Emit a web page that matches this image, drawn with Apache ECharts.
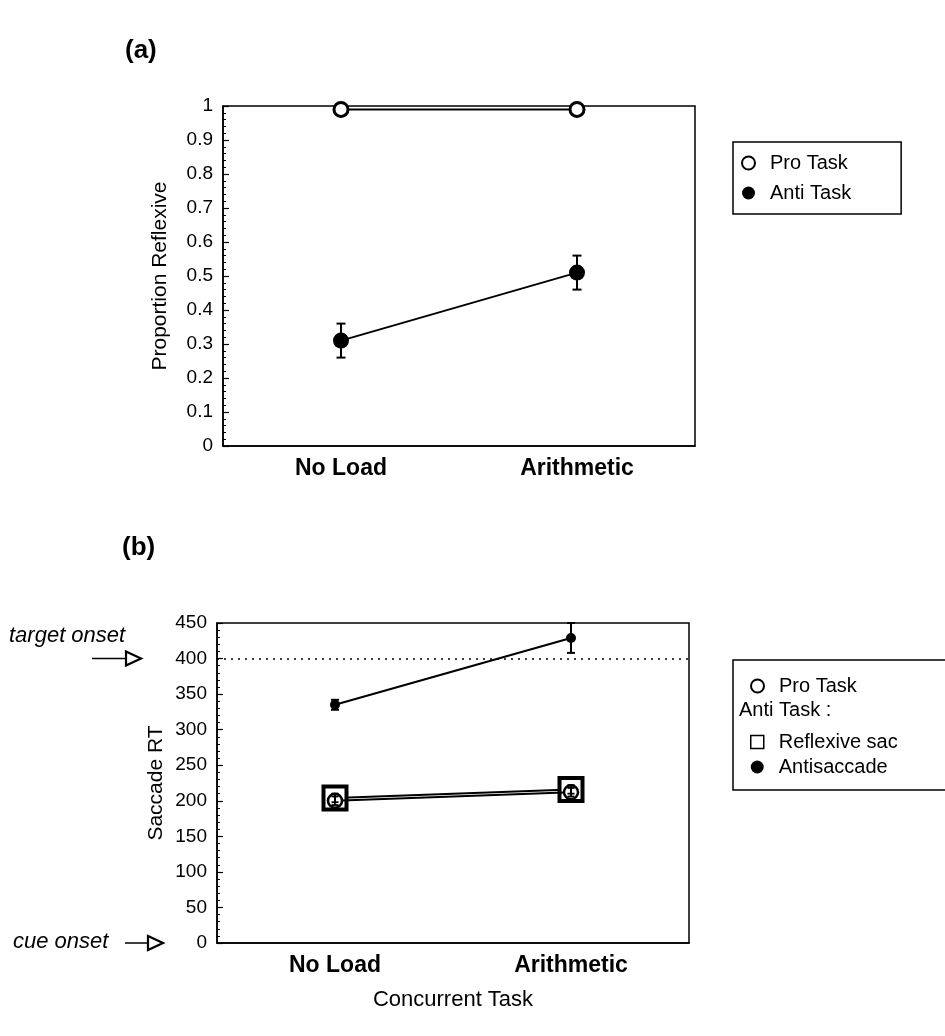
<!DOCTYPE html>
<html>
<head>
<meta charset="utf-8">
<script src="https://cdn.jsdelivr.net/npm/echarts@6/dist/echarts.min.js"></script>
<style>
  html, body { margin: 0; padding: 0; background: #fff; }
  #main { width: 945px; height: 1036px; }
</style>
</head>
<body>
<div id="main"></div>
<script>
'use strict'
// data
var categories = ['No Load', 'Arithmetic']

// (a) proportion reflexive
var propPro = [0.99, 0.99]
var propAnti = [0.31, 0.51]
var propAntiErr = [0.05, 0.05]

// (b) saccade RT
var rtPro = [200, 212]
var rtProErr = [6, 6]
var rtReflexive = [204, 216]
var rtReflexiveErr = [6, 6]
var rtAnti = [335, 429]
var rtAntiErr = [7, 21]
var targetOnset = 400

var FONT = 'Liberation Sans, Arial, sans-serif'

function errorBars (name, axisIdx, values, errs, capW, lineW) {
  return {
    name: name,
    type: 'custom',
    xAxisIndex: axisIdx,
    yAxisIndex: axisIdx,
    z: 5,
    silent: true,
    encode: { x: 0, y: [1, 2] },
    data: values.map(function (v, i) { return [i, v - errs[i], v + errs[i]] }),
    renderItem: function (params, api) {
      var lo = api.coord([api.value(0), api.value(1)])
      var hi = api.coord([api.value(0), api.value(2)])
      var w = capW / 2
      var st = { stroke: '#000', lineWidth: lineW }
      return {
        type: 'group',
        children: [
          { type: 'line', shape: { x1: lo[0], y1: lo[1], x2: hi[0], y2: hi[1] }, style: st },
          { type: 'line', shape: { x1: lo[0] - w, y1: lo[1], x2: lo[0] + w, y2: lo[1] }, style: st },
          { type: 'line', shape: { x1: hi[0] - w, y1: hi[1], x2: hi[0] + w, y2: hi[1] }, style: st }
        ]
      }
    }
  }
}

function yAxisBase (gi, name, max, interval) {
  return {
    type: 'value',
    gridIndex: gi,
    min: 0,
    max: max,
    interval: interval,
    name: name,
    nameLocation: 'middle',
    nameGap: gi === 0 ? 52 : 50,
    nameTextStyle: { fontFamily: FONT, fontSize: 21, color: '#000' },
    axisLine: { show: true, lineStyle: { color: '#000', width: 1.5 } },
    axisTick: { show: true, inside: true, length: 6, lineStyle: { color: '#000', width: 1.2 } },
    minorTick: { show: true, splitNumber: 5, length: 3, lineStyle: { color: '#000', width: 1 } },
    splitLine: { show: false },
    axisLabel: { fontFamily: FONT, fontSize: 19, color: '#000', margin: 10 }
  }
}

function xAxisBase (gi) {
  return {
    type: 'category',
    gridIndex: gi,
    data: categories,
    boundaryGap: true,
    axisLine: { show: true, lineStyle: { color: '#000', width: 1.5 } },
    axisTick: { show: false },
    axisLabel: { fontFamily: FONT, fontSize: 23, fontWeight: 'bold', color: '#000', margin: 11 }
  }
}

var chart = echarts.init(document.getElementById('main'))

var xB = xAxisBase(1)
xB.name = 'Concurrent Task'
xB.nameLocation = 'middle'
xB.nameGap = 46
xB.nameTextStyle = { fontFamily: FONT, fontSize: 22, color: '#000' }

var legendText = { fontFamily: FONT, fontSize: 20, color: '#000', padding: [0, 0, 0, 10] }

var option = {
  backgroundColor: '#fff',
  animation: false,
  title: [
    { text: '(a)', left: 120, top: 33, textStyle: { fontFamily: FONT, fontSize: 26, fontWeight: 'bold', color: '#000' } },
    { text: '(b)', left: 117, top: 530, textStyle: { fontFamily: FONT, fontSize: 26, fontWeight: 'bold', color: '#000' } }
  ],
  grid: [
    { left: 223, top: 106, width: 472, height: 340, show: true, borderColor: '#000', borderWidth: 1.5, backgroundColor: 'transparent' },
    { left: 217, top: 623, width: 472, height: 320, show: true, borderColor: '#000', borderWidth: 1.5, backgroundColor: 'transparent' }
  ],
  xAxis: [xAxisBase(0), xB],
  yAxis: [
    yAxisBase(0, 'Proportion Reflexive', 1, 0.1),
    yAxisBase(1, 'Saccade RT', 450, 50)
  ],
  legend: [
    {
      left: 733,
      top: 142,
      orient: 'vertical',
      padding: [11, 50, 11, 8],
      itemGap: 10,
      itemWidth: 13,
      itemHeight: 13,
      borderColor: '#000',
      borderWidth: 1.5,
      selectedMode: false,
      textStyle: legendText,
      data: [
        { name: 'Pro Task', icon: 'circle', itemStyle: { color: '#fff', borderColor: '#000', borderWidth: 2 } },
        { name: 'Anti Task', icon: 'circle', itemStyle: { color: '#000', borderColor: '#000', borderWidth: 0 } }
      ]
    },
    {
      left: 745,
      top: 671,
      orient: 'vertical',
      itemGap: 5,
      itemWidth: 13,
      itemHeight: 13,
      selectedMode: false,
      textStyle: legendText,
      data: [
        { name: 'Pro Task', icon: 'circle', itemStyle: { color: '#fff', borderColor: '#000', borderWidth: 2 } }
      ]
    },
    {
      left: 745,
      top: 727,
      orient: 'vertical',
      itemGap: 5,
      itemWidth: 13,
      itemHeight: 13,
      selectedMode: false,
      textStyle: legendText,
      data: [
        { name: 'Reflexive sac', icon: 'rect', itemStyle: { color: '#fff', borderColor: '#000', borderWidth: 1.5 } },
        { name: 'Antisaccade', icon: 'circle', itemStyle: { color: '#000', borderWidth: 0 } }
      ]
    }
  ],
  series: [
    // (a)
    {
      name: 'Pro Task',
      type: 'line',
      xAxisIndex: 0,
      yAxisIndex: 0,
      data: propPro,
      symbol: 'circle',
      symbolSize: 14,
      z: 6,
      lineStyle: { color: '#000', width: 2 },
      itemStyle: { color: '#fff', borderColor: '#000', borderWidth: 3 }
    },
    {
      name: 'Anti Task',
      type: 'line',
      xAxisIndex: 0,
      yAxisIndex: 0,
      data: propAnti,
      symbol: 'circle',
      symbolSize: 16,
      z: 6,
      lineStyle: { color: '#000', width: 2 },
      itemStyle: { color: '#000', borderWidth: 0 }
    },
    errorBars('Anti Task err', 0, propAnti, propAntiErr, 9, 2),
    // (b)
    {
      name: 'Reflexive sac',
      type: 'line',
      xAxisIndex: 1,
      yAxisIndex: 1,
      data: rtReflexive,
      symbol: 'rect',
      symbolSize: 23,
      z: 3,
      lineStyle: { color: '#000', width: 2 },
      itemStyle: { color: '#fff', borderColor: '#000', borderWidth: 4 }
    },
    {
      name: 'Pro Task',
      type: 'line',
      xAxisIndex: 1,
      yAxisIndex: 1,
      data: rtPro,
      symbol: 'circle',
      symbolSize: 14,
      z: 4,
      lineStyle: { color: '#000', width: 2 },
      itemStyle: { color: '#fff', borderColor: '#000', borderWidth: 2.5 }
    },
    errorBars('Reflexive err', 1, rtReflexive, rtReflexiveErr, 7, 1.8),
    errorBars('Pro err', 1, rtPro, rtProErr, 7, 1.8),
    {
      name: 'Antisaccade',
      type: 'line',
      xAxisIndex: 1,
      yAxisIndex: 1,
      data: rtAnti,
      symbol: 'circle',
      symbolSize: 10,
      z: 6,
      lineStyle: { color: '#000', width: 2 },
      itemStyle: { color: '#000', borderWidth: 0 },
      markLine: {
        silent: true,
        symbol: 'none',
        label: { show: false },
        lineStyle: { color: '#000', type: [2, 5], width: 1.5 },
        data: [{ yAxis: targetOnset }]
      }
    },
    errorBars('Antisaccade err', 1, rtAnti, rtAntiErr, 8, 2)
  ]
}

chart.setOption(option)

// annotations placed against the RT axis
var yTarget = chart.convertToPixel({ yAxisIndex: 1 }, targetOnset)
var yCue = chart.convertToPixel({ yAxisIndex: 1 }, 0)

function arrow (x1, x2, y) {
  return [
    { type: 'line', shape: { x1: x1, y1: y, x2: x2 - 14, y2: y }, style: { stroke: '#000', lineWidth: 1.5 } },
    { type: 'polygon', shape: { points: [[x2 - 15, y - 7], [x2, y], [x2 - 15, y + 7]] }, style: { fill: '#fff', stroke: '#000', lineWidth: 2.2 } }
  ]
}

chart.setOption({
  graphic: [
    // box for legend (b)
    { type: 'rect', shape: { x: 733, y: 660, width: 230, height: 130 }, style: { fill: 'none', stroke: '#000', lineWidth: 1.5 } },
    { type: 'text', left: 739, top: 700, style: { text: 'Anti Task :', font: '20px ' + FONT, fill: '#000' } },
    { type: 'text', left: 9, top: yTarget - 34, style: { text: 'target onset', font: 'italic 22px ' + FONT, fill: '#000' } },
    { type: 'text', left: 13, top: yCue - 12, style: { text: 'cue onset', font: 'italic 22px ' + FONT, fill: '#000' } }
  ].concat(arrow(92, 141, yTarget)).concat(arrow(125, 163, yCue))
})
</script>
</body>
</html>
